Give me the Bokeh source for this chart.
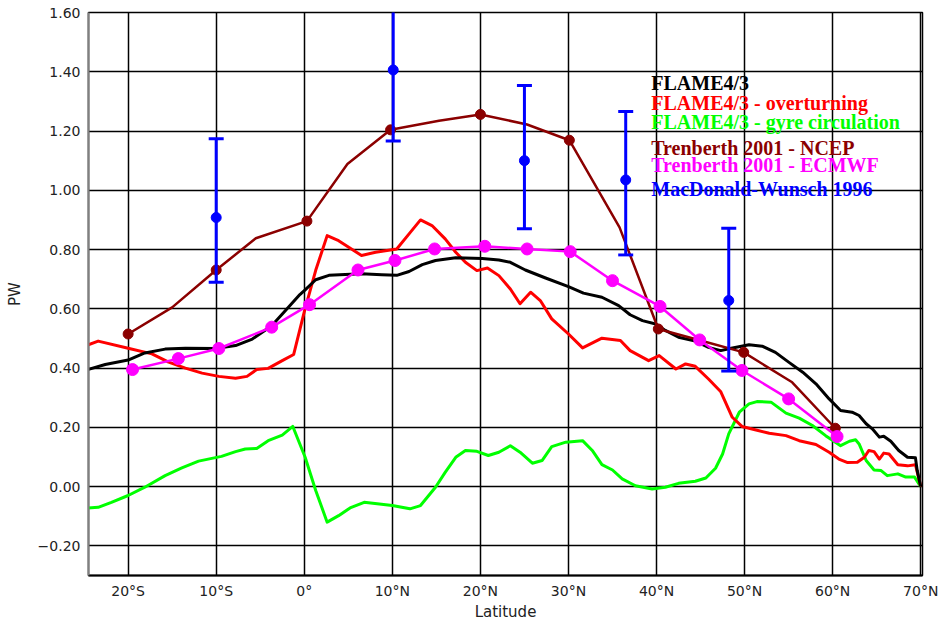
from bokeh.plotting import figure
from bokeh.models import Range1d, FixedTicker, Label
from bokeh.embed import file_html
from bokeh.resources import INLINE

# --- FLAME4/3 total meridional heat transport (PW) ---
flame_lat = [-24.6, -22.6, -20.0, -18.1, -15.8, -13.5, -10.1, -7.8, -5.9, -3.7, -1.8, -0.5,
             0.1, 1.3, 2.8, 6.5, 8.8, 10.5, 11.9, 13.4, 14.9, 17.2, 20.2, 22.1, 23.4, 25.1,
             27.4, 30.0, 31.7, 33.8, 35.7, 37.0, 38.4, 39.9, 41.0, 42.5, 44.4, 45.9, 47.3,
             48.2, 50.5, 52.0, 53.5, 55.0, 56.6, 58.1, 59.6, 60.9, 62.2, 63.0, 63.8, 64.5,
             65.3, 65.8, 66.6, 67.5, 68.5, 69.4, 69.6, 70.0]
flame_pw = [0.395, 0.412, 0.427, 0.451, 0.464, 0.467, 0.466, 0.476, 0.498, 0.543, 0.605, 0.648,
            0.664, 0.698, 0.713, 0.718, 0.715, 0.713, 0.726, 0.749, 0.763, 0.772, 0.770, 0.765,
            0.757, 0.731, 0.704, 0.675, 0.653, 0.639, 0.611, 0.580, 0.560, 0.549, 0.527, 0.504,
            0.491, 0.470, 0.459, 0.465, 0.479, 0.474, 0.453, 0.420, 0.386, 0.347, 0.296, 0.257,
            0.251, 0.240, 0.212, 0.195, 0.167, 0.170, 0.153, 0.122, 0.099, 0.097, 0.054, 0.0]

# --- FLAME4/3 overturning component ---
moc_lat = [-24.6, -23.4, -20.0, -17.3, -15.4, -13.5, -11.6, -9.7, -7.8, -6.5, -5.4, -4.1,
           -2.5, -1.2, 0.0, 1.3, 2.6, 3.9, 6.5, 8.1, 10.5, 11.9, 13.2, 14.5, 16.0, 17.2,
           18.3, 19.6, 20.8, 22.1, 23.4, 24.5, 25.7, 26.8, 28.1, 30.0, 31.6, 33.8, 35.9,
           37.0, 39.1, 40.3, 42.2, 43.3, 44.4, 45.9, 47.3, 48.6, 49.7, 51.3, 52.8, 54.7,
           56.2, 58.1, 59.6, 60.7, 61.7, 62.8, 63.6, 64.1, 64.7, 65.3, 65.8, 66.4, 67.4,
           68.5, 69.4, 70.0]
moc_pw = [0.478, 0.491, 0.467, 0.448, 0.420, 0.400, 0.383, 0.372, 0.366, 0.372, 0.395, 0.399,
          0.425, 0.446, 0.590, 0.730, 0.847, 0.830, 0.780, 0.791, 0.802, 0.853, 0.900, 0.881,
          0.836, 0.791, 0.757, 0.729, 0.738, 0.712, 0.667, 0.617, 0.656, 0.628, 0.566, 0.515,
          0.468, 0.501, 0.493, 0.459, 0.425, 0.442, 0.397, 0.414, 0.406, 0.363, 0.320, 0.234,
          0.203, 0.191, 0.180, 0.172, 0.155, 0.142, 0.116, 0.093, 0.081, 0.082, 0.099, 0.122,
          0.118, 0.093, 0.113, 0.110, 0.074, 0.070, 0.074, 0.0]

# --- FLAME4/3 gyre circulation component ---
gyre_lat = [-24.6, -23.4, -21.9, -20.0, -18.1, -15.8, -13.9, -12.0, -9.4, -7.8, -6.7, -5.4,
            -4.1, -2.5, -1.3, 0.1, 1.3, 2.6, 3.9, 5.2, 6.8, 10.0, 12.0, 13.2, 14.9, 16.0,
            17.2, 18.3, 19.6, 20.9, 22.1, 23.4, 24.5, 25.9, 27.0, 28.1, 29.7, 31.6, 32.7,
            33.8, 35.0, 36.1, 37.6, 39.5, 41.0, 42.5, 44.4, 45.6, 46.7, 47.5, 48.2, 49.4,
            50.5, 51.4, 53.0, 54.7, 56.2, 57.7, 59.2, 60.9, 61.9, 62.6, 63.0, 63.8, 64.7,
            65.5, 66.2, 67.4, 68.3, 69.3, 70.0]
gyre_pw = [-0.072, -0.070, -0.053, -0.030, -0.002, 0.037, 0.063, 0.086, 0.102, 0.118, 0.127,
           0.129, 0.155, 0.174, 0.203, 0.099, -0.013, -0.120, -0.098, -0.072, -0.053, -0.064,
           -0.075, -0.064, -0.002, 0.048, 0.099, 0.122, 0.119, 0.105, 0.116, 0.138, 0.116,
           0.079, 0.088, 0.135, 0.150, 0.155, 0.122, 0.074, 0.056, 0.026, 0.003, -0.008,
           -0.002, 0.011, 0.018, 0.029, 0.062, 0.110, 0.178, 0.251, 0.279, 0.287, 0.285,
           0.248, 0.231, 0.206, 0.172, 0.138, 0.153, 0.158, 0.144, 0.088, 0.056, 0.054,
           0.037, 0.043, 0.032, 0.032, 0.0]

# --- Trenberth 2001, NCEP (markers every 10 degrees) ---
ncep_lat = [-20, -15, -10, -5.5, 0.3, 4.9, 9.8, 15.3, 20.0, 25.3, 30.1, 35.8, 40.2, 45.0,
            49.9, 55.4, 60.3]
ncep_pw = [0.515, 0.605, 0.731, 0.838, 0.896, 1.089, 1.204, 1.235, 1.256, 1.222, 1.169,
           0.875, 0.532, 0.493, 0.453, 0.352, 0.197]
ncep_mark_lat = [-20, -10, 0.3, 9.8, 20.0, 30.1, 40.2, 49.9, 60.3]
ncep_mark_pw = [0.515, 0.731, 0.896, 1.204, 1.256, 1.169, 0.532, 0.453, 0.197]

# --- Trenberth 2001, ECMWF ---
ecmwf_lat = [-19.5, -14.3, -9.7, -3.7, 0.6, 6.1, 10.3, 14.8, 20.5, 25.3, 30.2, 35.0, 40.4,
             44.9, 49.7, 55.0, 60.5]
ecmwf_pw = [0.395, 0.432, 0.466, 0.538, 0.614, 0.731, 0.763, 0.802, 0.811, 0.802, 0.793,
            0.695, 0.608, 0.495, 0.392, 0.296, 0.169]

# --- MacDonald & Wunsch 1996 estimates with uncertainty ---
mw_lat = [-10.0, 10.1, 25.0, 36.5, 48.2]
mw_pw = [0.908, 1.406, 1.100, 1.035, 0.628]
mw_low = [0.690, 1.166, 0.870, 0.782, 0.390]
mw_high = [1.174, 1.646, 1.354, 1.266, 0.872]

# --- axes ---
x_ticks = [-20, -10, 0, 10, 20, 30, 40, 50, 60, 70]
x_tick_labels = ["20°S", "10°S", "0°", "10°N", "20°N", "30°N", "40°N", "50°N", "60°N", "70°N"]
y_ticks = [-0.2, 0.0, 0.2, 0.4, 0.6, 0.8, 1.0, 1.2, 1.4, 1.6]
y_tick_labels = ["\u22120.20", "0.00", "0.20", "0.40", "0.60", "0.80", "1.00", "1.20", "1.40", "1.60"]

legend_entries = [
    ("FLAME4/3", "#000000", 1.361),
    ("FLAME4/3 - overturning", "#ff0000", 1.294),
    ("FLAME4/3 - gyre circulation", "#00ff00", 1.230),
    ("Trenberth 2001 - NCEP", "#8b0000", 1.144),
    ("Trenberth 2001 - ECMWF", "#ff00ff", 1.084),
    ("MacDonald-Wunsch 1996", "#0000ff", 1.006),
]

p = figure(width=941, height=623, output_backend="svg", toolbar_location=None,
           x_range=Range1d(-24.5, 70.2), y_range=Range1d(-0.30, 1.60),
           min_border_left=88, min_border_right=19, min_border_top=12, min_border_bottom=48,
           x_axis_label="Latitude", y_axis_label="PW")

p.background_fill_color = "white"
p.border_fill_color = "white"
p.outline_line_color = "black"
p.outline_line_width = 1.5

p.xaxis.ticker = FixedTicker(ticks=x_ticks)
p.yaxis.ticker = FixedTicker(ticks=y_ticks)
p.xgrid.ticker = FixedTicker(ticks=x_ticks)
p.ygrid.ticker = FixedTicker(ticks=y_ticks)
p.xaxis.major_label_overrides = dict(zip(x_ticks, x_tick_labels))
p.yaxis.major_label_overrides = dict(zip(y_ticks, y_tick_labels))

for g in (p.xgrid, p.ygrid):
    g.grid_line_color = "black"
    g.grid_line_width = 1.5
    g.grid_line_alpha = 1.0

for ax in (p.xaxis, p.yaxis):
    ax.major_tick_line_color = None
    ax.minor_tick_line_color = None
    ax.major_tick_out = 0
    ax.major_tick_in = 0
    ax.major_label_text_font = "DejaVu Sans"
    ax.major_label_text_font_size = "14px"
    ax.major_label_text_color = "#222222"
    ax.axis_label_text_font = "DejaVu Sans"
    ax.axis_label_text_font_size = "15px"
    ax.axis_label_text_font_style = "normal"
    ax.axis_label_text_color = "#222222"

p.yaxis.axis_line_color = "#808080"
p.yaxis.axis_line_width = 2
p.xaxis.axis_line_color = "black"
p.xaxis.axis_line_width = 2
p.yaxis.major_label_standoff = 8
p.xaxis.major_label_standoff = 7
p.yaxis.axis_label_standoff = 11
p.xaxis.axis_label_standoff = 1

# model curves
p.line(gyre_lat, gyre_pw, line_color="#00ff00", line_width=3, line_join="round")
p.line(moc_lat, moc_pw, line_color="#ff0000", line_width=3, line_join="round")
p.line(flame_lat, flame_pw, line_color="#000000", line_width=3, line_join="round")

# observational estimates
p.line(ncep_lat, ncep_pw, line_color="#8b0000", line_width=2.5, line_join="round")
p.scatter(ncep_mark_lat, ncep_mark_pw, size=10, fill_color="#8b0000", line_color="#8b0000")

p.line(ecmwf_lat, ecmwf_pw, line_color="#ff00ff", line_width=2.5, line_join="round")
p.scatter(ecmwf_lat, ecmwf_pw, size=12, fill_color="#ff00ff", line_color="#ff00ff")

p.segment(x0=mw_lat, y0=mw_low, x1=mw_lat, y1=mw_high, line_color="#0000ff", line_width=3)
p.scatter(mw_lat, mw_low, marker="dash", size=15, line_color="#0000ff", line_width=3)
p.scatter(mw_lat, mw_high, marker="dash", size=15, line_color="#0000ff", line_width=3)
p.scatter(mw_lat, mw_pw, size=10, fill_color="#0000ff", line_color="#0000ff")

for text, color, yv in legend_entries:
    p.add_layout(Label(x=39.4, y=yv, text=text, text_color=color,
                       text_font="Liberation Serif", text_font_style="bold",
                       text_font_size="20px", text_baseline="middle"))

open("out.html", "w").write(file_html(p, INLINE))
